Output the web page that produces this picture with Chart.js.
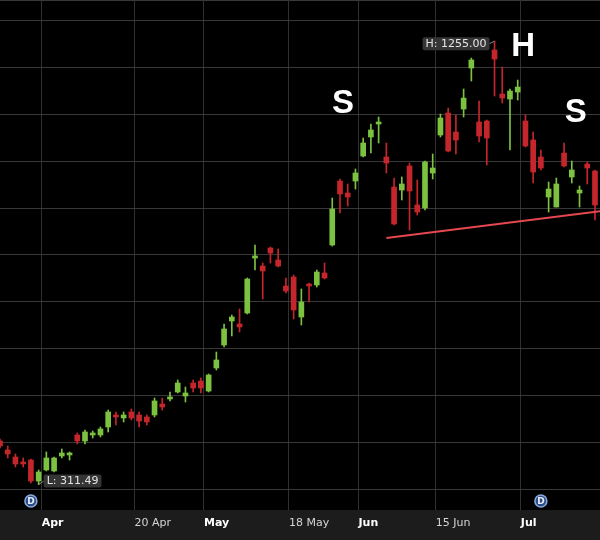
<!DOCTYPE html>
<html>
<head>
<meta charset="utf-8">
<script src="https://cdn.jsdelivr.net/npm/chart.js@4"></script>
<style>
  html, body { margin: 0; padding: 0; background: #000; }
  #wrap { width: 600px; height: 540px; }
</style>
</head>
<body>
<div id="wrap"><canvas id="candleChart"></canvas></div>
<script>
  // daily candles, oldest first
  var openPrices = [404.3, 385.1, 370.2, 359.6, 363.8, 319.1, 342.6, 340.4, 372.3, 374.5,
    417.0, 404.3, 417.0, 417.0, 434.0, 459.6, 453.2, 466.0, 459.6, 455.3,
    459.6, 483.0, 493.6, 508.5, 500.0, 527.7, 531.9, 510.6, 559.6, 608.5,
    659.6, 653.2, 676.6, 793.6, 776.6, 814.9, 789.4, 734.0, 753.2, 668.1,
    738.3, 736.2, 761.7, 821.3, 957.4, 931.9, 957.4, 1010.6, 1051.1, 1078.7,
    1008.5, 944.7, 938.3, 989.4, 906.4, 900.0, 974.5, 1055.3, 1102.1, 1061.7,
    1110.6, 1197.9, 1083.0, 1085.1, 1236.2, 1142.6, 1131.9, 1146.8, 1085.1, 1044.7,
    1008.5, 923.4, 902.1, 1017.0, 966.0, 931.9, 993.6, 978.7];
  var highPrices = [408.5, 393.6, 376.6, 368.1, 366.0, 342.6, 380.9, 370.2, 387.2, 380.9,
    421.3, 427.7, 425.5, 434.0, 470.2, 466.0, 466.0, 472.3, 466.0, 459.6,
    495.7, 495.7, 508.5, 534.0, 519.1, 534.0, 538.3, 546.8, 593.6, 653.2,
    672.3, 685.1, 751.1, 821.3, 783.0, 817.0, 812.8, 751.1, 757.4, 727.7,
    740.4, 768.1, 783.0, 921.3, 961.7, 951.1, 983.0, 1048.9, 1078.7, 1093.6,
    1038.3, 963.8, 966.0, 995.7, 959.6, 1000.0, 1014.9, 1100.0, 1112.8, 1097.9,
    1153.2, 1219.1, 1127.7, 1087.2, 1255.0, 1200.0, 1153.2, 1172.3, 1097.9, 1061.7,
    1023.4, 955.3, 963.8, 1038.3, 1000.0, 946.8, 997.9, 980.9];
  var lowPrices = [389.4, 368.1, 348.9, 348.9, 314.9, 311.49, 340.4, 338.3, 368.1, 363.8,
    397.9, 397.9, 410.6, 412.8, 423.4, 438.3, 444.7, 448.9, 434.0, 438.3,
    455.3, 470.2, 489.4, 506.4, 487.2, 508.5, 506.4, 508.5, 555.3, 604.3,
    627.7, 636.2, 674.5, 768.1, 706.4, 783.0, 774.5, 719.1, 663.8, 651.1,
    700.0, 731.9, 748.9, 819.1, 889.4, 904.3, 940.4, 1008.5, 1017.0, 1038.3,
    974.5, 863.8, 917.0, 853.2, 885.1, 895.7, 961.7, 1051.1, 1019.1, 1014.9,
    1093.6, 1170.2, 1040.4, 991.5, 1138.3, 1123.4, 1023.4, 1129.8, 1029.8, 953.2,
    980.9, 891.5, 902.1, 987.2, 953.2, 902.1, 951.1, 874.5];
  var closePrices = [393.6, 376.6, 355.3, 355.3, 319.1, 338.3, 368.1, 368.1, 378.7, 378.7,
    404.3, 423.4, 421.3, 429.8, 466.0, 455.3, 459.6, 453.2, 446.8, 444.7,
    489.4, 476.6, 497.9, 527.7, 506.4, 517.0, 517.0, 544.7, 576.6, 642.6,
    668.1, 646.8, 748.9, 797.9, 766.0, 804.3, 776.6, 723.4, 683.0, 700.0,
    734.0, 763.8, 751.1, 897.9, 929.8, 923.4, 974.5, 1038.3, 1066.0, 1083.0,
    995.7, 866.0, 951.1, 936.2, 891.5, 997.9, 985.1, 1091.5, 1021.3, 1044.7,
    1134.0, 1214.9, 1053.2, 1048.9, 1217.0, 1134.0, 1148.9, 1157.4, 1031.9, 976.6,
    985.1, 940.4, 951.1, 989.4, 980.9, 938.3, 985.1, 906.4];

  // date ticks: candle index of the first session, and its label
  var tickIndex = [5, 17, 26, 37, 46, 56, 67];
  var tickLabels = ['Apr', '20 Apr', 'May', '18 May', 'Jun', '15 Jun', 'Jul'];
  var tickIsMonth = [true, false, true, false, true, false, true];
  var priceGrid = [300, 400, 500, 600, 700, 800, 900, 1000, 1100, 1200, 1300];

  // head & shoulders neckline and pattern letters
  var necklineX = [50, 78];
  var necklineY = [836, 894];
  var patternText = ['S', 'H', 'S'];
  var patternX = [44.4, 67.7, 74.5];
  var patternY = [1121, 1243, 1102];
  var dividendIndex = [4, 70];

  var UP = '#7cc140';
  var DOWN = '#c4262c';
  var candleColors = openPrices.map(function (o, i) { return closePrices[i] >= o ? UP : DOWN; });

  var wickData = lowPrices.map(function (l, i) { return { x: i, y: [l, highPrices[i]] }; });
  var bodyData = openPrices.map(function (o, i) { return { x: i, y: [o, closePrices[i]] }; });
  var neckData = necklineX.map(function (x, i) { return { x: x, y: necklineY[i] }; });

  var hiIdx = highPrices.indexOf(Math.max.apply(null, highPrices));
  var loIdx = lowPrices.indexOf(Math.min.apply(null, lowPrices));

  var backdrop = {
    id: 'backdrop',
    beforeDraw: function (chart) {
      var c = chart.ctx, a = chart.chartArea;
      c.save();
      c.fillStyle = '#000';
      c.fillRect(0, 0, chart.width, chart.height);
      c.fillStyle = '#1c1c1c';
      c.fillRect(0, a.bottom, chart.width, chart.height - a.bottom);
      c.fillStyle = '#383838';
      c.fillRect(0, 0, chart.width, 1);
      c.restore();
    }
  };

  function tag(c, text, px, py, leftSide) {
    c.font = '11px "DejaVu Sans"';
    var w = c.measureText(text).width + 6, h = 13;
    var bx = leftSide ? px - 5 - w : px + 5;
    var by = leftSide ? py - 4 : py - 10;
    c.strokeStyle = '#8a8a8a';
    c.lineWidth = 1;
    c.beginPath();
    c.moveTo(leftSide ? bx + w : bx, by + h / 2);
    c.lineTo(px, py);
    c.stroke();
    c.fillStyle = '#353535';
    c.beginPath();
    c.roundRect(bx, by, w, h, 2);
    c.fill();
    c.fillStyle = '#e4e4e4';
    c.textAlign = 'left';
    c.textBaseline = 'middle';
    c.fillText(text, bx + 3, by + h / 2 + 0.5);
  }

  var notes = {
    id: 'notes',
    afterDatasetsDraw: function (chart) {
      var c = chart.ctx, xs = chart.scales.x, ys = chart.scales.y, a = chart.chartArea;
      c.save();
      tag(c, 'H: ' + highPrices[hiIdx].toFixed(2), xs.getPixelForValue(hiIdx), ys.getPixelForValue(highPrices[hiIdx]), true);
      tag(c, 'L: ' + lowPrices[loIdx].toFixed(2), xs.getPixelForValue(loIdx), ys.getPixelForValue(lowPrices[loIdx]), false);

      c.font = 'bold 33px "Liberation Sans"';
      c.fillStyle = '#ffffff';
      c.textAlign = 'center';
      c.textBaseline = 'middle';
      patternText.forEach(function (t, i) {
        c.fillText(t, xs.getPixelForValue(patternX[i]), ys.getPixelForValue(patternY[i]));
      });

      dividendIndex.forEach(function (i) {
        var px = xs.getPixelForValue(i), py = a.bottom - 9;
        c.beginPath();
        c.arc(px, py, 6, 0, Math.PI * 2);
        c.fillStyle = '#2b4c84';
        c.fill();
        c.lineWidth = 1.5;
        c.strokeStyle = '#8aa9dd';
        c.stroke();
        c.font = 'bold 9px "DejaVu Sans"';
        c.fillStyle = '#e8eef8';
        c.fillText('D', px, py + 0.5);
      });
      c.restore();
    }
  };

  var ctx = document.getElementById('candleChart').getContext('2d');
  var candleChart = new Chart(ctx, {
    type: 'bar',
    data: {
      datasets: [
        {
          type: 'line',
          data: neckData,
          borderColor: '#e5484f',
          borderWidth: 2,
          pointRadius: 0,
          order: 0
        },
        {
          data: bodyData,
          backgroundColor: candleColors,
          barThickness: 5,
          minBarLength: 2,
          grouped: false,
          order: 1
        },
        {
          data: wickData,
          backgroundColor: candleColors,
          barThickness: 1,
          grouped: false,
          order: 2
        }
      ]
    },
    options: {
      responsive: true,
      maintainAspectRatio: false,
      animation: false,
      layout: { padding: 0 },
      plugins: {
        legend: { display: false },
        tooltip: { enabled: false }
      },
      scales: {
        x: {
          type: 'linear',
          min: 0,
          max: 77.65,
          offset: false,
          afterBuildTicks: function (scale) {
            scale.ticks = tickIndex.map(function (i) { return { value: i + 0.4 }; });
          },
          afterFit: function (scale) { scale.height = 30; },
          border: { display: false },
          grid: { color: '#303030', drawTicks: false, offset: false },
          ticks: {
            autoSkip: false,
            maxRotation: 0,
            align: 'start',
            padding: 7,
            callback: function (v, i) { return tickLabels[i]; },
            color: function (c) { return tickIsMonth[c.index] ? '#ffffff' : '#d4d4d4'; },
            font: function (c) {
              return { family: '"DejaVu Sans"', size: 11, weight: tickIsMonth[c.index] ? 'bold' : 'normal' };
            }
          }
        },
        y: {
          min: 257.4,
          max: 1342.6,
          afterBuildTicks: function (scale) {
            scale.ticks = priceGrid.map(function (v) { return { value: v }; });
          },
          afterFit: function (scale) { scale.width = 0; },
          border: { display: false },
          grid: { color: '#383838', drawTicks: false },
          ticks: { display: false }
        }
      }
    },
    plugins: [backdrop, notes]
  });
</script>
</body>
</html>
